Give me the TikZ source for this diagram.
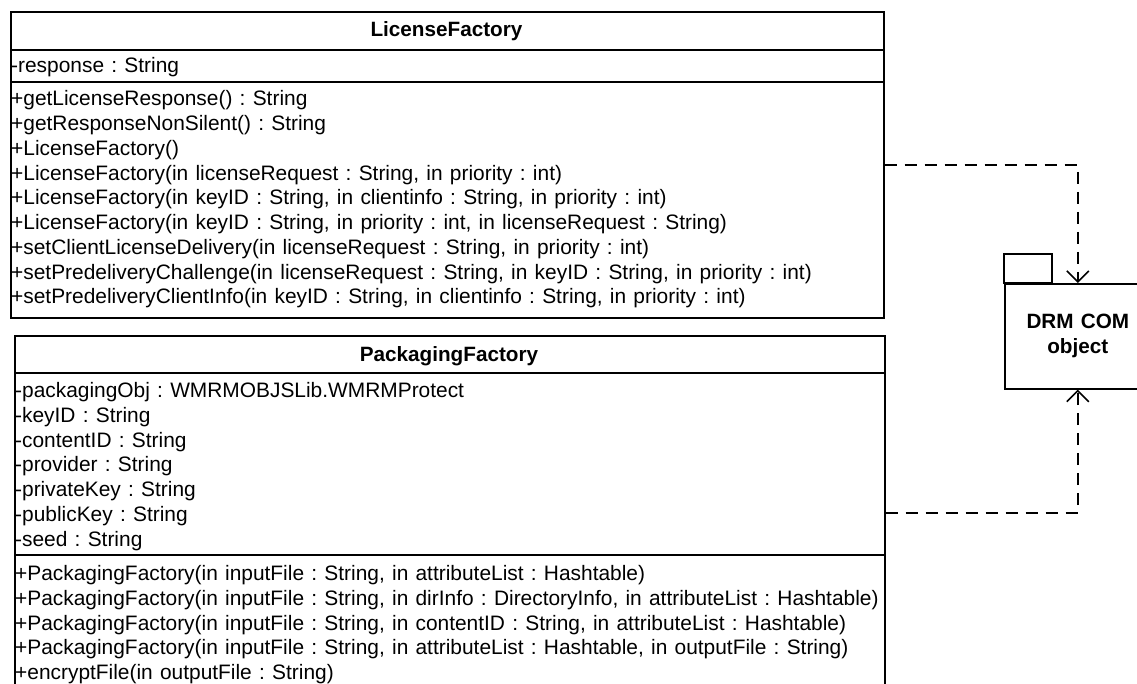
\documentclass[tikz,border=0pt]{standalone}
\usepackage{fontspec}
\setmainfont[WordSpace=1.25]{Liberation Sans}
\usetikzlibrary{arrows.meta,calc}

\begin{document}
\frenchspacing
\begin{tikzpicture}[x=1pt,y=-1pt,
  box/.style={draw=black, line width=1.6pt, inner sep=0pt},
  sep/.style={draw=black, line width=1.6pt},
  member/.style={anchor=base west, inner sep=0pt, font=\fontsize{20.9}{24}\selectfont},
  classname/.style={anchor=base, inner sep=0pt, font=\fontsize{20.7}{24}\selectfont\bfseries},
  dep/.style={line width=2.6pt, dash pattern=on 12pt off 8pt,
    -{Straight Barb[length=11pt,width=22pt,line width=1.6pt]}}
]
\useasboundingbox (0,0) rectangle (1137,684);
\clip (0,0) rectangle (1137,684);

% ---- LicenseFactory class ----
\node[box, anchor=north west, minimum width=873pt, minimum height=306pt] (lic) at (10,11) {};
\draw[sep] (10,50) -- (883,50);
\draw[sep] (10,82) -- (883,82);
\node[classname] (licname) at (446.5,37) {LicenseFactory};
\node[member] (licattr) at (11,73) {-response : String};
\foreach \t [count=\i from 0] in {
  {+getLicenseResponse() : String},
  {+getResponseNonSilent() : String},
  {+LicenseFactory()},
  {+LicenseFactory(in licenseRequest : String, in priority : int)},
  {+LicenseFactory(in keyID : String, in clientinfo : String, in priority : int)},
  {+LicenseFactory(in keyID : String, in priority : int, in licenseRequest : String)},
  {+setClientLicenseDelivery(in licenseRequest : String, in priority : int)},
  {+setPredeliveryChallenge(in licenseRequest : String, in keyID : String, in priority : int)},
  {+setPredeliveryClientInfo(in keyID : String, in clientinfo : String, in priority : int)}}
  \node[member] (licop\i) at (11,106+24.75*\i) {\t};

% ---- PackagingFactory class ----
\node[box, anchor=north west, minimum width=870pt, minimum height=380pt] (pack) at (14,335) {};
\draw[sep] (14,373) -- (884,373);
\draw[sep] (14,555) -- (884,555);
\node[classname] (packname) at (449,361) {PackagingFactory};
\foreach \t [count=\i from 0] in {
  {-packagingObj : WMRMOBJSLib.WMRMProtect},
  {-keyID : String},
  {-contentID : String},
  {-provider : String},
  {-privateKey : String},
  {-publicKey : String},
  {-seed : String}}
  \node[member] (packattr\i) at (15,397.5+24.75*\i) {\t};
\foreach \t [count=\i from 0] in {
  {+PackagingFactory(in inputFile : String, in attributeList : Hashtable)},
  {+PackagingFactory(in inputFile : String, in dirInfo : DirectoryInfo, in attributeList : Hashtable)},
  {+PackagingFactory(in inputFile : String, in contentID : String, in attributeList : Hashtable)},
  {+PackagingFactory(in inputFile : String, in attributeList : Hashtable, in outputFile : String)},
  {+encryptFile(in outputFile : String)}}
  \node[member] (packop\i) at (15,580.5+24.75*\i) {\t};

% ---- DRM COM object package ----
\node[box, anchor=north west, minimum width=146pt, minimum height=105pt,
  align=center, font=\fontsize{20.7}{25}\selectfont\bfseries] (drm) at (1004,283) {DRM COM\\object};
\draw[sep] (drm.north west) rectangle ++(48,-29);

% ---- dependencies ----
\draw[dep] ($(lic.north east)+(0,154)$) -| (drm.north);
\draw[dep] ($(pack.north east)+(0,178)$) -| (drm.south);
\end{tikzpicture}
\end{document}
